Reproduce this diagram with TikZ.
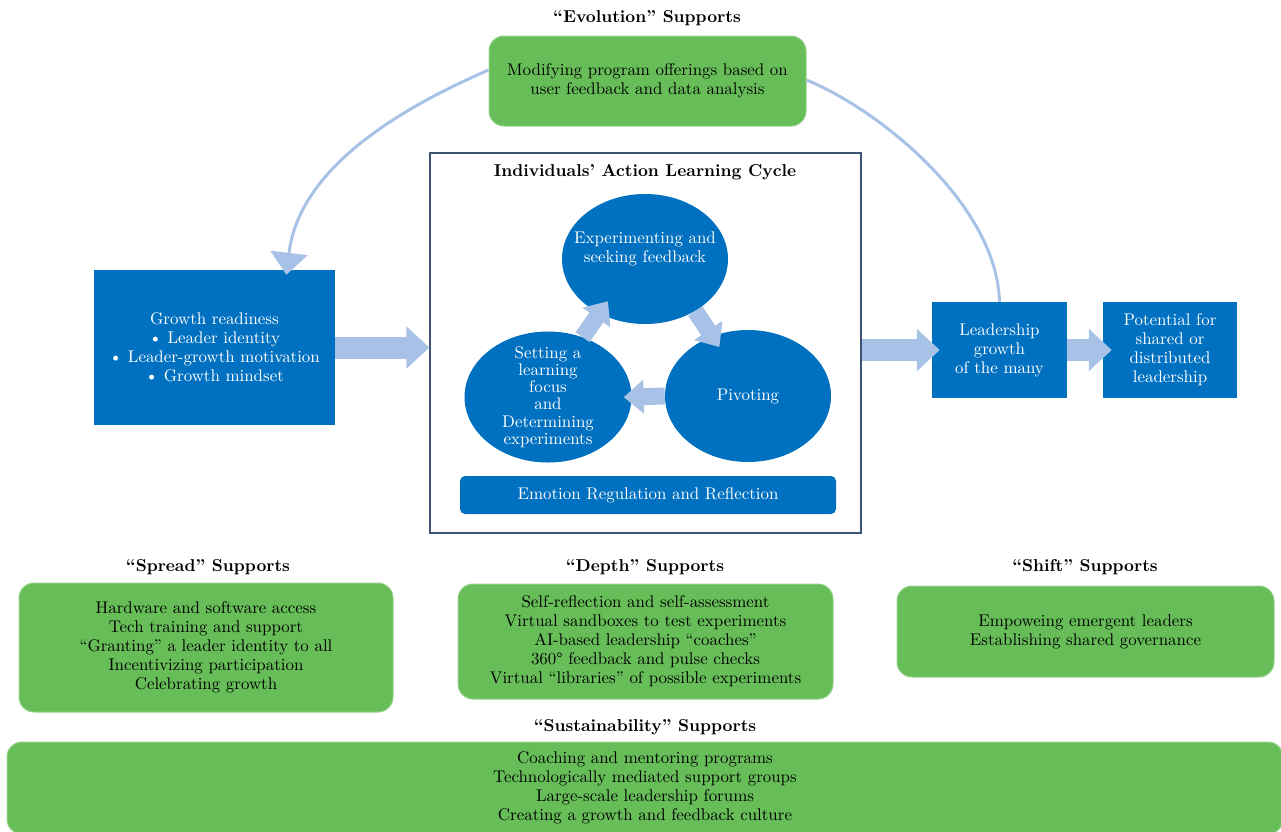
\documentclass[tikz,border=0pt]{standalone}
\usepackage{fontspec}
\setmainfont{lmroman10-regular}[Extension=.otf, BoldFont=lmroman10-bold]
\usepackage{tikz}
\usetikzlibrary{%
  arrows.meta,%
  shapes.geometric,% ellipse
  positioning%
}
\definecolor{boxblue}{RGB}{0,112,192}
\definecolor{arrowblue}{RGB}{167,194,230}
\definecolor{suppgreen}{RGB}{103,190,88}
\definecolor{framegray}{RGB}{62,84,118}

\begin{document}
\begin{tikzpicture}[x=1pt,y=-1pt,
    every node/.style={font=\fontsize{16.9}{19}\selectfont, align=center, inner sep=0},
    head/.style={font=\fontsize{17.2}{20}\selectfont\bfseries},
    bluebox/.style={rectangle, fill=boxblue, text=white},
    blueoval/.style={ellipse, fill=boxblue, text=white},
    greenbox/.style={rectangle, rounded corners=15pt, fill=suppgreen, draw=suppgreen!70!white, line width=1pt},
    arcline/.style={arrowblue, line width=3pt},
    bigarrow/.style={arrowblue, line width=22pt, -{Triangle[width=41pt,length=23pt]}},
    cycarrow/.style={arrowblue, line width=17pt, -{Triangle[width=33pt,length=20pt]}}]
  \useasboundingbox (0,0) rectangle (1281,831);
  \clip (0,0) rectangle (1281,831);

  % evolution loop on top
  \node[head] (evolhead) at (647,18) {``Evolution'' Supports};
  \node[greenbox, minimum width=317, minimum height=90] (evol) at (647.5,81)
    {Modifying program offerings based on\\user feedback and data analysis};

  \node[bluebox, minimum width=241, minimum height=155] (grow) at (214.5,347.5)
    {Growth readiness\\\textbullet\ Leader identity\\\textbullet\ Leader-growth motivation\\\textbullet\ Growth mindset};

  % the cycle
  \node[draw=framegray, line width=1.3pt, minimum width=431, minimum height=380] (cycle) at (645.5,343) {};
  \node[head] (cyclehead) at (645,172) {Individuals' Action Learning Cycle};
  \node[blueoval, inner xsep=-13pt, minimum width=166, minimum height=130] (expt) at (645,259)
    {Experimenting and\\seeking feedback\\[4pt]};
  \node[blueoval, inner ysep=-6pt, minimum width=167, minimum height=131, font=\fontsize{16.9}{17.3}\selectfont] (focus) at (548,397)
    {Setting a\\learning\\focus\\and\\Determining\\experiments};
  \node[blueoval, minimum width=166, minimum height=132] (pivot) at (748,396) {Pivoting};
  \node[bluebox, rounded corners=5pt, minimum width=376, minimum height=38] (emot) at (648,495)
    {Emotion Regulation and Reflection};

  \node[bluebox, minimum width=135, minimum height=96] (many) at (999.5,350)
    {Leadership\\growth\\of the many};
  \node[bluebox, minimum width=134, minimum height=96] (potent) at (1170,350)
    {Potential for\\shared or\\distributed\\leadership};

  \path [draw,arcline,-{Triangle[width=37pt,length=22pt]},shorten >=-5pt] ([yshift=11pt]evol.west)
    .. controls (420,100) and (300,160) .. ([xshift=72.5pt]grow.north);
  \path [draw,arcline] ([yshift=1pt]evol.east) .. controls (880,110) and (997,205) .. (many.north);

  \path [draw,bigarrow] (grow.east) -- (grow.east -| cycle.west);
  \path [draw,bigarrow,shorten >=-8pt] (cycle.east |- many.west) -- (many.west);
  \path [draw,bigarrow,shorten >=-9pt] (many.east) -- (potent.west);

  \path [draw,cycarrow,shorten >=-15pt] (focus.60) -- (expt.-130);
  \path [draw,cycarrow,shorten >=-13pt] (expt.-46) -- (pivot.121);
  \path [draw,cycarrow,shorten >=-8pt] (pivot.west) -- (focus.east);

  % supports below
  \node[head] (spreadhead) at (208,567) {``Spread'' Supports};
  \node[greenbox, minimum width=374, minimum height=129] (spread) at (206,647.5)
    {Hardware and software access\\Tech training and support\\``Granting'' a leader identity to all\\Incentivizing participation\\Celebrating growth};
  \node[head] (depthhead) at (645,567) {``Depth'' Supports};
  \node[greenbox, minimum width=375, minimum height=115] (depth) at (645.5,641.5)
    {Self-reflection and self-assessment\\Virtual sandboxes to test experiments\\AI-based leadership ``coaches''\\360° feedback and pulse checks\\Virtual ``libraries'' of possible experiments};
  \node[head] (shifthead) at (1085,567) {``Shift'' Supports};
  \node[greenbox, minimum width=377, minimum height=91] (shift) at (1085.5,631.5)
    {Empoweing emergent leaders\\Establishing shared governance};
  \node[head] (susthead) at (645,727) {``Sustainability'' Supports};
  \node[greenbox, minimum width=1276, minimum height=92] (sust) at (645,788)
    {Coaching and mentoring programs\\Technologically mediated support groups\\Large-scale leadership forums\\Creating a growth and feedback culture};
\end{tikzpicture}
\end{document}
